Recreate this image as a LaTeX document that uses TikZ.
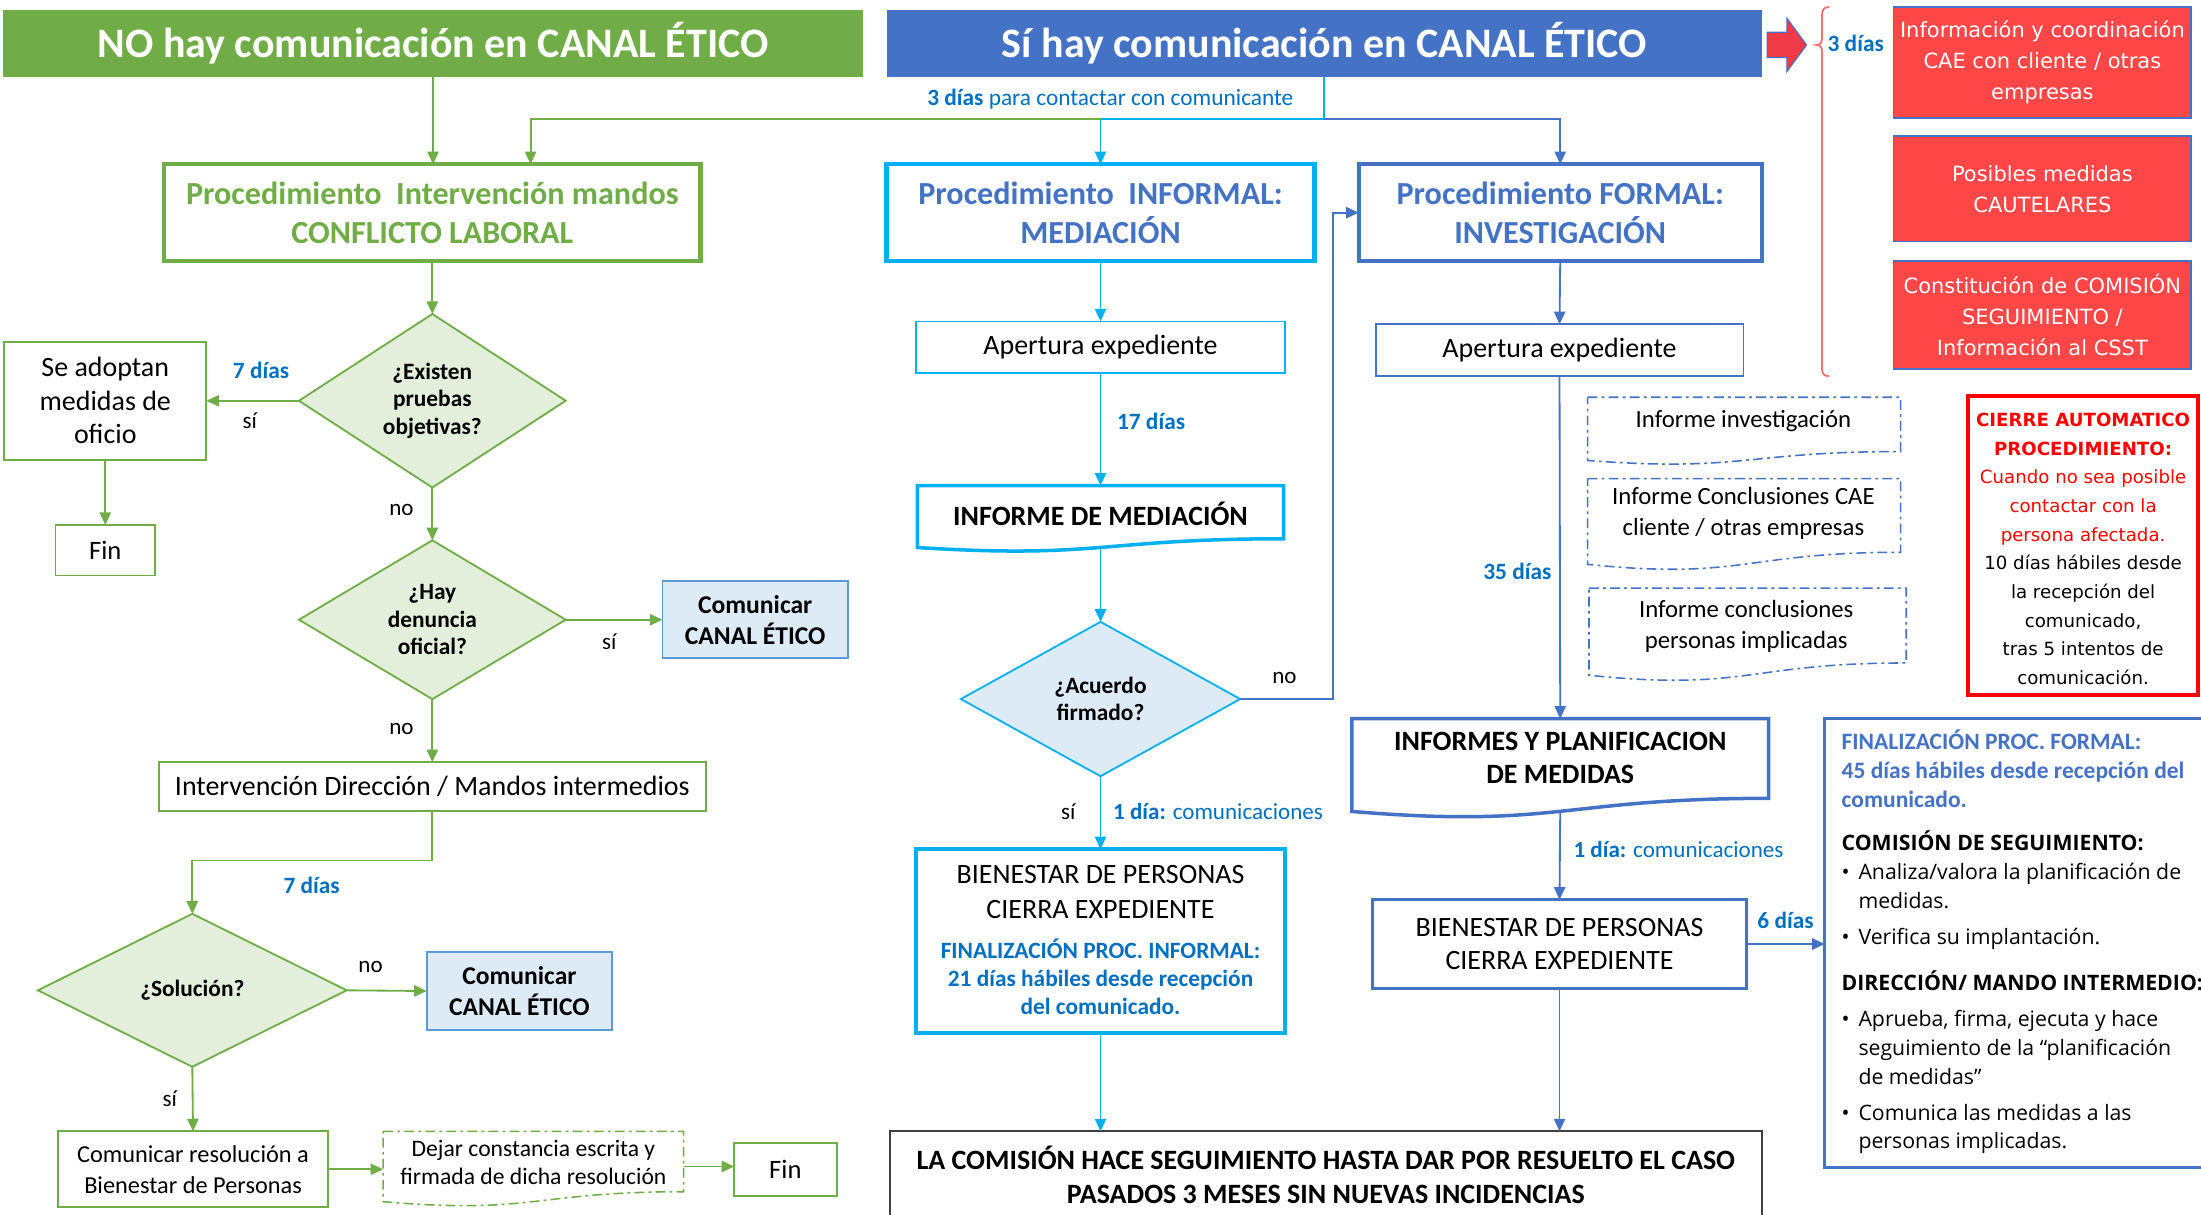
\documentclass[tikz,border=0pt]{standalone}
\usepackage{fontspec}
\setmainfont{Carlito}
\newfontfamily\dvs{DejaVu Sans}
\newfontfamily\osans{Open Sans}
\usetikzlibrary{shapes.geometric,arrows.meta,calc}
\definecolor{cgreen}{HTML}{70AD47}
\definecolor{cgreenfill}{HTML}{E2EFDA}
\definecolor{cblue}{HTML}{4472C4}
\definecolor{ccyan}{HTML}{00B0F0}
\definecolor{clabel}{HTML}{0070C0}
\definecolor{cltblue}{HTML}{DDEBF7}
\definecolor{cmidblue}{HTML}{5B9BD5}
\definecolor{cred}{HTML}{FF4747}
\definecolor{credline}{HTML}{FF0000}
\definecolor{cbrace}{HTML}{FF6F6F}
\definecolor{carrow}{HTML}{F03A47}
\definecolor{cdark}{HTML}{404040}
\newcommand\fsz[2]{\fontsize{#1}{#2}\selectfont}
\newcommand\docoutline[5]{%
 \pgfmathsetmacro\docW{#4-#2}%
 \pgfmathsetmacro\docH{(#5-#3)/0.933}%
 \draw[#1] (#2,#3) -- (#4,#3) -- (#4,#3+0.802*\docH) .. controls (#2+0.5*\docW,#3+0.802*\docH) and (#2+0.5*\docW,#3+1.107*\docH) .. (#2,#3+0.934*\docH) -- cycle;}
\newcommand\fbl[1]{\rmfamily\bfseries\fsz{16.8}{20.7}\color{cblue}#1}
\newcommand\bul{\makebox[12bp][l]{•}}
\begin{document}
\begin{tikzpicture}[x=1bp,y=-1bp,
 every node/.style={inner sep=0pt,outer sep=0pt,text=black},
 hdr/.style={minimum height=48bp,text=white,font=\fsz{30}{36}\bfseries},
 arr/.style={-{Triangle[length=9bp,width=8bp]},line width=1.3bp},
 garr/.style={arr,draw=cgreen},
 carr/.style={arr,draw=ccyan},
 barr/.style={arr,draw=cblue},
 proc/.style={draw,line width=3bp,align=center,font=\fsz{23}{28}\bfseries,minimum height=69bp},
 gbox/.style={draw=cgreen,line width=1.3bp,align=center},
 diam/.style={diamond,draw=cgreen,fill=cgreenfill,line width=1.3bp,align=center,font=\fsz{16.7}{19.5}\bfseries},
 combox/.style={draw=cmidblue,fill=cltblue,line width=1.3bp,align=center,font=\fsz{18.3}{22}\bfseries,minimum width=132bp,minimum height=55bp},
 lbl/.style={font=\fsz{16.7}{18}\bfseries,text=clabel},
 yn/.style={font=\fsz{16.5}{18}},
 redbox/.style={fill=cred,draw=cblue,line width=1.2bp,minimum width=212bp,align=center,text=white,font=\dvs\fsz{15}{22}},
 ddot/.style={dash pattern=on 7bp off 3bp on 2bp off 3bp,line width=1.1bp},
]
\fill[white] (0,0) rectangle (1568,865);
\useasboundingbox (0,0) rectangle (1568,865);

% headers
\node[hdr,fill=cgreen,minimum width=613bp] (noh) at (308.5,31) {NO hay comunicación en CANAL ÉTICO};
\node[hdr,fill=cblue,minimum width=623bp] (sih) at (943.5,31) {Sí hay comunicación en CANAL ÉTICO};

% block arrow and brace
\draw[draw=cblue,fill=carrow,line width=0.8bp] (1259,23) -- (1273,23) -- (1273,13) -- (1287,32) -- (1273,51) -- (1273,41) -- (1259,41) -- cycle;
\draw[cbrace,line width=1.3bp] (1303,5) .. controls (1299,5) and (1298,7) .. (1298,12) -- (1298,27) .. controls (1298,30) and (1297,32) .. (1294,32) .. controls (1297,32) and (1298,34) .. (1298,37) -- (1298,262) .. controls (1298,266) and (1299,268) .. (1303,268);
\node[lbl] (l3d) at (1322,31) {3 días};

% red boxes
\node[redbox,minimum height=79bp] (r1) at (1455,44.5) {Información y coordinación\\CAE con cliente / otras\\empresas};
\node[redbox,minimum height=75bp] (r2) at (1455,134.5) {Posibles medidas\\CAUTELARES};
\node[redbox,minimum height=77bp] (r3) at (1455,224.5) {Constitución de COMISIÓN\\SEGUIMIENTO /\\Información al CSST};

% cierre automatico
\node[draw=credline,line width=2.5bp,minimum width=164bp,minimum height=213bp] (cie) at (1484,388.5) {};
\node[align=center,font=\dvs\fsz{13}{20.5}] (ciet) at (1484,391) {\textcolor{credline}{\bfseries CIERRE AUTOMATICO}\\\textcolor{credline}{\bfseries PROCEDIMIENTO:}\\\textcolor{credline}{Cuando no sea posible}\\\textcolor{credline}{contactar con la}\\\textcolor{credline}{persona afectada.}\\10 días hábiles desde\\la recepción del\\comunicado,\\tras 5 intentos de\\comunicación.};

% ---------- left column ----------
\node[proc,draw=cgreen,text=cgreen,minimum width=382bp] (conf) at (308,151.5) {Procedimiento\ \ Intervención mandos\\CONFLICTO LABORAL};
\node[diam,minimum width=190bp,minimum height=109bp] (d1) at (308,285.5) {¿Existen\\pruebas\\objetivas?};
\node[gbox,minimum width=144bp,minimum height=84bp,font=\fsz{20}{24}] (adop) at (75,285.5) {Se adoptan\\medidas de\\oficio};
\node[gbox,minimum width=71bp,minimum height=36bp,font=\fsz{19}{20}] (fin1) at (75,392) {Fin};
\node[diam,minimum width=190bp,minimum height=109bp] (d2) at (308,441.5) {¿Hay\\denuncia\\oficial?};
\node[combox] (com1) at (538,441.5) {Comunicar\\CANAL ÉTICO};
\node[gbox,minimum width=390bp,minimum height=35bp,font=\fsz{20}{22}] (int) at (308,560.5) {Intervención Dirección / Mandos intermedios};
\node[diam,minimum width=220bp,minimum height=109bp] (d3) at (137,705.5) {¿Solución?};
\node[combox,minimum height=56bp] (com2) at (370,706) {Comunicar\\CANAL ÉTICO};
\node[gbox,minimum width=192bp,minimum height=54bp,font=\fsz{17.4}{22}] (res) at (137.5,833) {Comunicar resolución a\\Bienestar de Personas};
\node[minimum width=214bp,minimum height=50bp] (dej) at (380,831) {};
\docoutline{draw=cgreen,line width=1.1bp,ddot}{273}{806}{487}{856}
\node[align=center,font=\fsz{16.9}{20}] (dejt) at (380,828) {Dejar constancia escrita y\\firmada de dicha resolución};
\node[gbox,minimum width=73bp,minimum height=38bp,font=\fsz{19}{20}] (fin2) at (559.5,833) {Fin};

\draw[garr] (noh.south) -- (noh.south |- conf.north);
\draw[garr] (conf.south) -- (d1.north);
\draw[garr] (d1.west) -- (adop.east);
\draw[garr] (adop.south) -- (fin1.north);
\draw[garr] (d1.south) -- (d2.north);
\draw[garr] (d2.east) -- (com1.west);
\draw[garr] (d2.south) -- (int.north);
\draw[garr] (int.south) -- ++(0,35) -| (d3.north);
\draw[garr] (d3.east) -- (com2.west);
\draw[garr] (d3.south) -- (res.north);
\draw[garr] (res.east) -- (res.east -| dej.west);
\draw[garr] (dej.east) -- (dej.east -| fin2.west);

\node[lbl] (l7a) at (186,264) {7 días};
\node[yn] (lsi1) at (178,300) {sí};
\node[yn] (lno1) at (286,363) {no};
\node[yn] (lsi2) at (434,457) {sí};
\node[yn] (lno2) at (286,519) {no};
\node[lbl] (l7b) at (222,631) {7 días};
\node[yn] (lno3) at (264,689) {no};
\node[yn] (lsi3) at (121,783) {sí};

% ---------- middle column ----------
\node[proc,draw=ccyan,text=cblue,minimum width=305bp] (inf) at (784,151.5) {Procedimiento\ \ INFORMAL:\\MEDIACIÓN};
\node[draw=ccyan,line width=1.3bp,minimum width=263bp,minimum height=37bp,font=\fsz{20}{22}] (ap1) at (784,247.5) {Apertura expediente};
\node[minimum width=261bp,minimum height=44bp] (med) at (784,368) {};
\docoutline{draw=ccyan,line width=2.5bp}{653.5}{346}{914.5}{390}
\node[font=\fsz{20}{22}\bfseries] (medt) at (784,366) {INFORME DE MEDIACIÓN};
\node[diamond,draw=ccyan,fill=cltblue,line width=1.3bp,align=center,font=\fsz{16.7}{19.5}\bfseries,minimum width=199bp,minimum height=110bp] (acu) at (784,498) {¿Acuerdo\\firmado?};
\node[draw=ccyan,line width=2.5bp,minimum width=263bp,minimum height=131bp] (bi1) at (784,670.5) {};
\node[align=center,font=\fsz{20}{25}] (bi1t) at (784,635.5) {BIENESTAR DE PERSONAS\\CIERRA EXPEDIENTE};
\node[align=center,font=\fsz{16.7}{20}\bfseries,text=clabel] (bi1b) at (784,696) {FINALIZACIÓN PROC. INFORMAL:\\21 días hábiles desde recepción\\del comunicado.};
\node[draw=cdark,line width=1.5bp,minimum width=621bp,minimum height=69bp] (bot) at (944.5,840.5) {};
\node[align=center,font=\fsz{20}{24}\bfseries] (bott) at (944.5,837) {LA COMISIÓN HACE SEGUIMIENTO HASTA DAR POR RESUELTO EL CASO\\PASADOS 3 MESES SIN NUEVAS INCIDENCIAS};

\draw[carr] (inf.south) -- (ap1.north);
\draw[carr] (ap1.south) -- (med.north);
\draw[carr] (med.south) -- (acu.north);
\draw[carr] (acu.south) -- (bi1.north);
\draw[carr] (bi1.south) -- (bi1.south |- bot.north);

\node[lbl] (l17) at (820,300) {17 días};
\node[yn] (lno4) at (915,483) {no};
\node[yn] (lsi4) at (761,578) {sí};
\node[anchor=west,font=\fsz{16.5}{18},text=clabel] (l1a) at (793,578) {\textbf{1 día:} comunicaciones};

% ---------- right column ----------
\node[proc,draw=cblue,text=cblue,minimum width=287bp] (form) at (1111.5,151.5) {Procedimiento FORMAL:\\INVESTIGACIÓN};
\node[draw=cblue,line width=1.3bp,minimum width=262bp,minimum height=37bp,font=\fsz{20}{22}] (ap2) at (1111,249.5) {Apertura expediente};
\docoutline{draw=cblue,ddot}{1131}{283}{1354}{328}
\node[font=\fsz{17.7}{22}] (inv1) at (1242,300) {Informe investigación};
\docoutline{draw=cblue,ddot}{1131}{341}{1354}{402}
\node[align=center,font=\fsz{17.7}{22}] (inv2) at (1242,366) {Informe Conclusiones CAE\\cliente / otras empresas};
\docoutline{draw=cblue,ddot}{1132}{419}{1358}{481}
\node[align=center,font=\fsz{17.7}{22}] (inv3) at (1244,446) {Informe conclusiones\\personas implicadas};
\node[minimum width=297bp,minimum height=66bp] (plan) at (1111.5,545) {};
\docoutline{draw=cblue,line width=2.5bp}{963}{512}{1260}{578}
\node[align=center,font=\fsz{20}{24}\bfseries] (plant) at (1111.5,540) {INFORMES Y PLANIFICACION\\DE MEDIDAS};
\node[draw=cblue,line width=2bp,minimum width=266bp,minimum height=63bp,align=center,font=\fsz{20}{24}] (bi2) at (1111,672.5) {BIENESTAR DE PERSONAS\\CIERRA EXPEDIENTE};
\node[draw=cblue,line width=2bp,minimum width=275bp,minimum height=320bp] (fina) at (1437.5,672) {};
\node[anchor=north west,align=left,font=\osans\fsz{15.2}{20.7}] (finat) at (1312,520) {\fbl{FINALIZACIÓN PROC. FORMAL:}\\\fbl{45 días hábiles desde recepción del}\\\fbl{comunicado.}\\[10bp]\textbf{COMISIÓN DE SEGUIMIENTO:}\\\bul Analiza/valora la planificación de\\\hspace*{12bp}medidas.\\[5bp]\bul Verifica su implantación.\\[12bp]\textbf{DIRECCIÓN/ MANDO INTERMEDIO:}\\[5bp]\bul Aprueba, firma, ejecuta y hace\\\hspace*{12bp}seguimiento de la “planificación\\\hspace*{12bp}de medidas”\\[5bp]\bul Comunica las medidas a las\\\hspace*{12bp}personas implicadas.};

\draw[barr] (form.south) -- (ap2.north);
\draw[barr] (ap2.south) -- (plan.north);
\draw[barr] (plan.south) -- (bi2.north);
\draw[barr] (bi2.east) -- (bi2.east -| fina.west);
\draw[barr] (bi2.south) -- (bi2.south |- bot.north);
\draw[barr] (acu.east) -- ++(66,0) |- (form.west);

\node[lbl] (l35) at (1081,407) {35 días};
\node[anchor=west,font=\fsz{16.5}{18},text=clabel] (l1b) at (1121,605) {\textbf{1 día:} comunicaciones};
\node[lbl] (l6) at (1272,656) {6 días};

% ---------- top junction ----------
\coordinate (jn) at (943,85);
\draw[draw=ccyan,line width=1.3bp] (sih.south -| jn) -- (jn);
\draw[carr] (jn) -| (inf.north);
\draw[garr] (inf.north |- jn) -| ([xshift=70bp]conf.north);
\draw[barr] (jn) -| (form.north);
\node[font=\fsz{16.7}{18},text=clabel] (l3dc) at (791,71) {\textbf{3 días} para contactar con comunicante};
\end{tikzpicture}
\end{document}
